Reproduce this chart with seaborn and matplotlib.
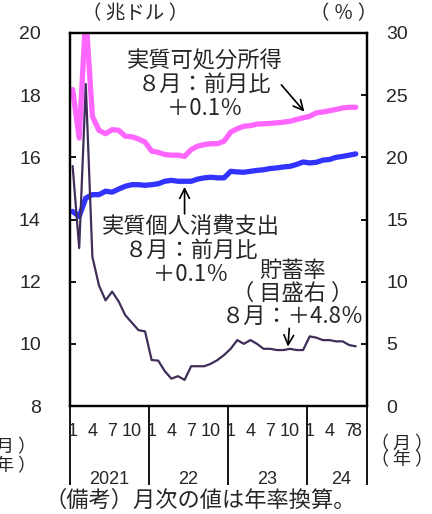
import matplotlib
matplotlib.use("Agg")
import matplotlib.pyplot as plt
import pandas as pd
import seaborn as sns

# monthly data, Jan 2021 - Aug 2024 (index 0 = Jan 2021)
month_idx = list(range(44))

# real disposable income (trillion USD, annualized)
income = [18.18, 16.62, 20.60, 17.32, 16.87, 16.76, 16.89, 16.87, 16.68, 16.66, 16.59, 16.49,
          16.20, 16.16, 16.09, 16.07, 16.07, 16.03, 16.25, 16.36, 16.41, 16.44, 16.44, 16.52,
          16.81, 16.92, 17.00, 17.02, 17.07, 17.08, 17.09, 17.11, 17.13, 17.16, 17.22, 17.27,
          17.32, 17.43, 17.46, 17.50, 17.54, 17.59, 17.61, 17.61]

# real personal consumption expenditure (trillion USD, annualized)
consumption = [14.26, 14.10, 14.69, 14.80, 14.80, 14.91, 14.88, 14.98, 15.07, 15.12, 15.12, 15.10,
               15.12, 15.15, 15.23, 15.26, 15.23, 15.23, 15.23, 15.30, 15.34, 15.36, 15.34, 15.34,
               15.55, 15.53, 15.52, 15.55, 15.58, 15.60, 15.64, 15.66, 15.69, 15.71, 15.77, 15.85,
               15.82, 15.84, 15.91, 15.93, 16.00, 16.03, 16.07, 16.11]

# personal saving rate (%)
saving_rate = [19.3, 12.7, 25.9, 12.0, 9.7, 8.5, 9.2, 8.4, 7.3, 6.7, 6.1, 6.0,
               3.7, 3.65, 2.8, 2.2, 2.4, 2.1, 3.2, 3.2, 3.2, 3.4, 3.7, 4.1,
               4.6, 5.3, 5.0, 5.3, 5.0, 4.6, 4.6, 4.5, 4.5, 4.6, 4.5, 4.5,
               5.6, 5.5, 5.3, 5.3, 5.2, 5.2, 4.9, 4.8]

month_tick_pos = [0, 3, 6, 9, 12, 15, 18, 21, 24, 27, 30, 33, 36, 39, 42, 43]
month_tick_labels = ['1', '4', '7', '10', '1', '4', '7', '10',
                     '1', '4', '7', '10', '1', '4', '7', '8']
year_bounds = [-0.4, 11.6, 23.6, 35.6, 44.7]
year_labels = ['2021', '22', '23', '24']
year_label_pos = [5.6, 17.6, 29.6, 40.7]

PINK = '#FF66FF'
BLUE = '#3333FF'
PURPLE = '#3F2E5A'

sns.set_style("white")
plt.rcParams['font.family'] = ['Noto Sans CJK JP', 'DejaVu Sans']
NUM_FONT = 'Liberation Sans'

df = pd.DataFrame({'idx': month_idx, 'income': income,
                   'consumption': consumption, 'saving': saving_rate})

fig = plt.figure(figsize=(4.32, 5.14), dpi=100)
ax = fig.add_axes([0.162, 0.2101, 0.6875, 0.7257])

sns.lineplot(data=df, x='idx', y='income', ax=ax, color=PINK, linewidth=3.8)
sns.lineplot(data=df, x='idx', y='consumption', ax=ax, color=BLUE, linewidth=3.8)

ax2 = ax.twinx()
sns.lineplot(data=df, x='idx', y='saving', ax=ax2, color=PURPLE, linewidth=1.6)

ax.set_xlim(year_bounds[0], year_bounds[-1])
ax.set_ylim(8, 20)
ax.set_yticks(range(8, 21, 2))
ax2.set_ylim(0, 30)
ax2.set_yticks(range(0, 31, 5))
for a in (ax, ax2):
    a.set_xlabel('')
    a.set_ylabel('')
    for s in a.spines.values():
        s.set_linewidth(1.6)
        s.set_color('black')

ax.tick_params(axis='y', left=True, direction='in', length=4, width=1.3, pad=21,
               labelsize=14, color='black')
ax2.tick_params(axis='y', right=True, direction='in', length=4, width=1.3, pad=14,
                labelsize=14, color='black')
for lab in ax.get_yticklabels() + ax2.get_yticklabels():
    lab.set_family(NUM_FONT)

# year separators as long outward ticks, month labels as minor ticks
ax.set_xticks(year_bounds)
ax.set_xticklabels([])
ax.set_xticks(month_tick_pos, minor=True)
ax.set_xticklabels(month_tick_labels, minor=True, family=NUM_FONT)
ax.tick_params(axis='x', which='major', bottom=True, direction='out', length=57,
               width=1.3, color='black')
ax.tick_params(axis='x', which='minor', bottom=True, length=0, pad=12, labelsize=13)

xt = ax.get_xaxis_transform()
for pos, lab in zip(year_label_pos, year_labels):
    ax.text(pos, -0.198, lab, transform=xt, ha='center', va='center',
            fontsize=13, family=NUM_FONT)

# annotations
ax.text(20.1, 18.34, '実質可処分所得\n８月：前月比\n＋0.1％', ha='center', va='center',
        fontsize=16, linespacing=1.05)
ax.annotate('', xy=(35.2, 17.47), xytext=(31.7, 18.33),
            arrowprops=dict(arrowstyle='->,head_length=0.7,head_width=0.35',
                            lw=1.2, color='black', shrinkA=0, shrinkB=0))

ax.text(18.0, 13.01, '実質個人消費支出\n８月：前月比\n＋0.1％', ha='center', va='center',
        fontsize=16, linespacing=1.05)
ax.annotate('', xy=(17.0, 15.05), xytext=(17.0, 14.18),
            arrowprops=dict(arrowstyle='->,head_length=0.7,head_width=0.35',
                            lw=1.2, color='black', shrinkA=0, shrinkB=0))

ax.text(33.4, 11.62, '貯蓄率\n（ 目盛右 ）\n８月：＋4.8％', ha='center', va='center',
        fontsize=16, linespacing=1.0)
ax.annotate('', xy=(32.7, 9.91), xytext=(32.9, 10.50),
            arrowprops=dict(arrowstyle='->,head_length=0.7,head_width=0.35',
                            lw=1.2, color='black', shrinkA=0, shrinkB=0))

# unit labels and note
fig.text(0.3125, 0.9728, '（ 兆ドル ）', ha='center', va='center', fontsize=14)
fig.text(0.796, 0.9728, '（ ％ ）', ha='center', va='center', fontsize=14)
fig.text(0.083, 0.1304, '（ 月 ）', ha='right', va='center', fontsize=13)
fig.text(0.083, 0.0934, '（ 年 ）', ha='right', va='center', fontsize=13)
fig.text(0.93, 0.136, '（ 月 ）', ha='center', va='center', fontsize=13)
fig.text(0.93, 0.104, '（ 年 ）', ha='center', va='center', fontsize=13)
fig.text(0.463, 0.026, '（備考）月次の値は年率換算。', ha='center', va='center', fontsize=16)

fig.savefig('out.png', dpi=100)
